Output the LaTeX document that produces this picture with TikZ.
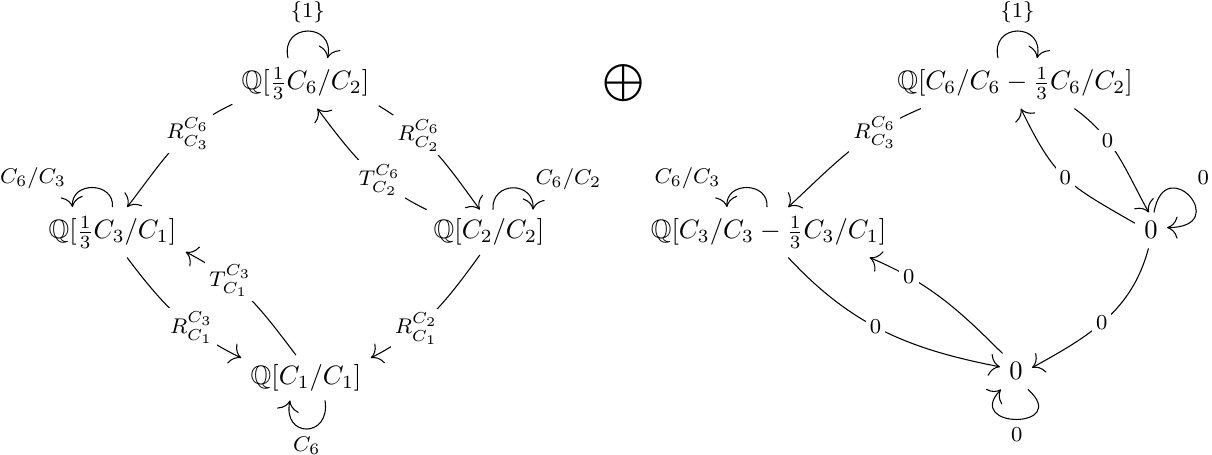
\documentclass[tikz,border=0pt]{standalone}
\usepackage{amssymb}
\usetikzlibrary{arrows.meta}
\tikzset{
  main/.style={anchor=base, inner sep=3.33pt},
  lab/.style={font=\footnotesize, fill=white, inner sep=1.5pt},
  looplab/.style={font=\footnotesize, inner sep=3pt},
  arr/.style={-{To[scale=1.6]}, line width=0.4pt},
}
\begin{document}
\begin{tikzpicture}[x=0.376pt, y=0.376pt]
\useasboundingbox (0,0) rectangle (1212,-455);
% left diagram
\node[main] (T) at (305.5,-90) {$\mathbb{Q}[\frac{1}{3}C_6/C_2]$};
\node[main] (L) at (112.5,-239) {$\mathbb{Q}[\frac{1}{3}C_3/C_1]$};
\node[main] (R) at (489,-239) {$\mathbb{Q}[C_2/C_2]$};
\node[main] (B) at (306,-384.4) {$\mathbb{Q}[C_1/C_1]$};
\node[main] (P) at (624,-90) {$\displaystyle\bigoplus$};
% right diagram
\node[main] (T2) at (1015,-90) {$\mathbb{Q}[C_6/C_6-\frac{1}{3}C_6/C_2]$};
\node[main] (L2) at (768.5,-239) {$\mathbb{Q}[C_3/C_3-\frac{1}{3}C_3/C_1]$};
\node[main] (R2) at (1151,-239) {$0$};
\node[main] (B2) at (1016,-380) {$0$};

% left edges
\draw[arr] (T.196) to[out=205,in=52] node[lab,pos=0.35]{$R^{C_6}_{C_3}$} (L.60);
\draw[arr] (T.343) to[out=329,in=126] node[lab,pos=0.33]{$R^{C_6}_{C_2}$} (R.112);
\draw[arr] (R.160) to[out=154,in=307] node[lab,pos=0.36]{$T^{C_6}_{C_2}$} (T.295);
\draw[arr] (L.300) to[out=307,in=154] node[lab,pos=0.63]{$R^{C_3}_{C_1}$} (B.163);
\draw[arr] (B.114) to[out=127,in=333] node[lab,pos=0.66]{$T^{C_3}_{C_1}$} (L.345);
\draw[arr] (R.248) to[out=234,in=27] node[lab,pos=0.65]{$R^{C_2}_{C_1}$} (B.17);
% left loops
\draw[arr] ([shift={(-17.5,0)}]T.north) .. controls +(-8,36) and +(8,36) .. node[looplab,pos=0.5,above]{$\{1\}$} ([shift={(22,0)}]T.north);
\draw[arr] ([shift={(0,0)}]L.north) .. controls +(2,26) and +(-2,26) .. node[looplab,pos=0.85,anchor=south east]{$C_6/C_3$} ([shift={(-40,0)}]L.north);
\draw[arr] ([shift={(4,0)}]R.north) .. controls +(-2,29) and +(2,29) .. node[looplab,pos=0.85,anchor=south west,xshift=-1.5pt]{$C_6/C_2$} ([shift={(44,0)}]R.north);
\draw[arr] ([shift={(19,0)}]B.south) .. controls +(6,-38) and +(-8,-38) .. node[looplab,pos=0.5,below]{$C_6$} ([shift={(-16,0)}]B.south);

% right edges
\draw[arr] (T2.195) to[out=203,in=43] node[lab,pos=0.3]{$R^{C_6}_{C_3}$} (L2.52);
\draw[arr] (T2.337) to[out=324,in=119] node[lab,pos=0.35]{$0$} (R2.97);
\draw[arr] (R2.156) to[out=150,in=296,looseness=1.25] node[lab,pos=0.5]{$0$} (T2.283);
\draw[arr] (L2.308) to[out=313,in=169] node[lab,pos=0.46]{$0$} (B2.164);
\draw[arr] (B2.127) to[out=135,in=337] node[lab,pos=0.75]{$0$} (L2.346);
\draw[arr] (R2.262) to[out=255,in=29] node[lab,pos=0.53]{$0$} (B2.13);
% right loops
\draw[arr] ([shift={(-17,0)}]T2.north) .. controls +(-8,36) and +(8,36) .. node[looplab,pos=0.5,above]{$\{1\}$} ([shift={(22,0)}]T2.north);
\draw[arr] ([shift={(-1.5,0)}]L2.north) .. controls +(2,26) and +(-2,26) .. node[looplab,pos=0.85,anchor=south east]{$C_6/C_3$} ([shift={(-41.5,0)}]L2.north);
\draw[arr] ([shift={(3,0)}]R2.north) .. controls +(11,63) and +(67,0) .. node[looplab,pos=0.45,anchor=south west,xshift=1pt]{$0$} (R2.10);
\draw[arr] ([shift={(12,0)}]B2.south) .. controls +(44,-40) and +(-38,-40) .. node[looplab,pos=0.5,below]{$0$} ([shift={(-15,0)}]B2.south);
\end{tikzpicture}
\end{document}
